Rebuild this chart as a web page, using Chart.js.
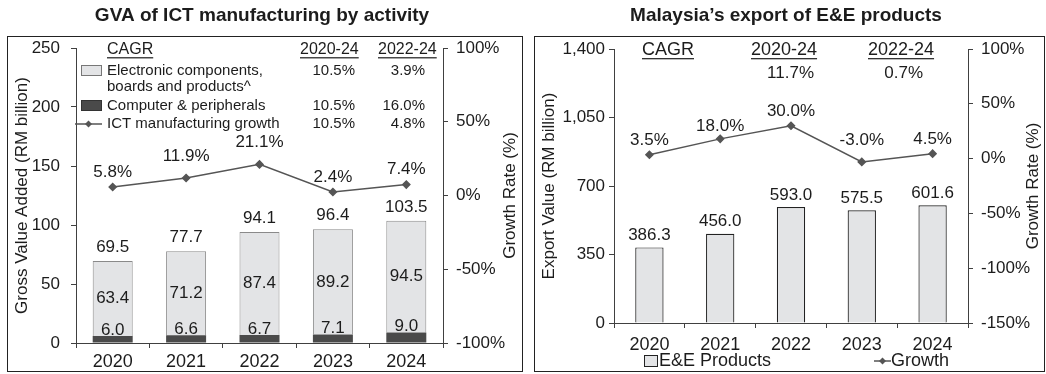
<!DOCTYPE html>
<html>
<head>
<meta charset="utf-8">
<script src="https://cdn.jsdelivr.net/npm/chart.js@4.4.1/dist/chart.umd.min.js"></script>
<style>
  html, body { margin: 0; padding: 0; background: #fff; overflow: hidden; }
  #wrap { position: relative; width: 1046px; height: 374px; }
  #gva { position: absolute; left: 0; top: 0; }
  #ee { position: absolute; left: 528px; top: 0; }
</style>
</head>
<body>
<div id="wrap">
  <canvas id="gva" width="528" height="374"></canvas>
  <canvas id="ee" width="518" height="374"></canvas>
</div>
<script>
// ---- data ----
const years = ['2020', '2021', '2022', '2023', '2024'];

// GVA of ICT manufacturing, RM billion
const computerPeripherals = [6.0, 6.6, 6.7, 7.1, 9.0];
const electronicComponents = [63.4, 71.2, 87.4, 89.2, 94.5];
const gvaTotal = [69.5, 77.7, 94.1, 96.4, 103.5];
const ictGrowth = [5.8, 11.9, 21.1, 2.4, 7.4];
const gvaTicks = [0, 50, 100, 150, 200, 250];
const gvaGrowthTicks = [-100, -50, 0, 50, 100];

// CAGR table (rows: electronic, computer, ICT growth)
const gvaCagrRows = ['Electronic components,', 'Computer & peripherals', 'ICT manufacturing growth'];
const gvaCagr2020_24 = [10.5, 10.5, 10.5];
const gvaCagr2022_24 = [3.9, 16.0, 4.8];

// Malaysia E&E exports, RM billion
const eeExports = [386.3, 456.0, 593.0, 575.5, 601.6];
const eeGrowth = [3.5, 18.0, 30.0, -3.0, 4.5];
const eeTicks = [0, 350, 700, 1050, 1400];
const eeGrowthTicks = [-150, -100, -50, 0, 50, 100];
const eeCagr = [11.7, 0.7]; // 2020-24, 2022-24

// ---- style ----
const FONT = "'Liberation Sans', Arial, sans-serif";
const INK = '#1c1c1c';
const AXIS = '#404040';
const LIGHT = '#e3e4e6';
const DARK = '#4a4a4a';
const LINE = '#555555';

Chart.defaults.font.family = FONT;
Chart.defaults.color = INK;
Chart.defaults.animation = false;

function txt(ctx, s, x, y, o = {}) {
  const size = o.size || 15;
  ctx.save();
  ctx.font = (o.bold ? 'bold ' : '') + size + 'px ' + FONT;
  ctx.fillStyle = o.color || INK;
  ctx.textAlign = o.align || 'left';
  ctx.textBaseline = o.base || 'middle';
  ctx.fillText(s, x, y);
  if (o.underline) {
    const w = ctx.measureText(s).width;
    let x0 = x;
    if (ctx.textAlign === 'right') x0 = x - w;
    if (ctx.textAlign === 'center') x0 = x - w / 2;
    ctx.fillRect(x0, y + size * 0.45, w, 1.2);
  }
  ctx.restore();
}

// rotated axis title reading bottom-to-top, like the reference
function vTitle(ctx, s, x, y) {
  ctx.save();
  ctx.translate(x, y);
  ctx.rotate(-Math.PI / 2);
  txt(ctx, s, 0, 0, { size: 17, align: 'center' });
  ctx.restore();
}

function diamond(ctx, x, y, r) {
  ctx.beginPath();
  ctx.moveTo(x, y - r);
  ctx.lineTo(x + r, y);
  ctx.lineTo(x, y + r);
  ctx.lineTo(x - r, y);
  ctx.closePath();
  ctx.fill();
}

function lineKey(ctx, x0, x1, y) {
  ctx.save();
  ctx.strokeStyle = LINE;
  ctx.fillStyle = LINE;
  ctx.lineWidth = 1.5;
  ctx.beginPath();
  ctx.moveTo(x0, y);
  ctx.lineTo(x1, y);
  ctx.stroke();
  diamond(ctx, (x0 + x1) / 2, y, 3.5);
  ctx.restore();
}

function pct(v) { return v.toFixed(1) + '%'; }

function axisCommon(extra) {
  return Object.assign({
    grid: { drawOnChartArea: false, drawTicks: true, tickLength: 5, color: AXIS },
    border: { color: AXIS, width: 1 }
  }, extra);
}

// ---- left chart: GVA ----
const gvaDecor = {
  id: 'gvaDecor',
  beforeDraw(chart) {
    const ctx = chart.ctx;
    ctx.save();
    ctx.strokeStyle = '#222';
    ctx.lineWidth = 1;
    ctx.strokeRect(7.5, 36.5, 515, 335);
    ctx.restore();
    txt(ctx, 'GVA of ICT manufacturing by activity', 262, 16, { size: 19, bold: true, align: 'center' });
    const a = chart.chartArea;
    vTitle(ctx, 'Growth Rate (%)', 510, (a.top + a.bottom) / 2);
  },
  afterDatasetsDraw(chart) {
    const ctx = chart.ctx;
    const dark = chart.getDatasetMeta(0).data;
    const light = chart.getDatasetMeta(1).data;
    const line = chart.getDatasetMeta(2).data;
    const lift = [15, 22, 22, 15, 15];
    years.forEach((_, i) => {
      txt(ctx, computerPeripherals[i].toFixed(1), dark[i].x, dark[i].y - 6, { size: 17, align: 'center' });
      txt(ctx, electronicComponents[i].toFixed(1), light[i].x, (light[i].y + light[i].base) / 2, { size: 17, align: 'center' });
      txt(ctx, gvaTotal[i].toFixed(1), light[i].x, light[i].y - 14, { size: 17, align: 'center' });
      txt(ctx, pct(ictGrowth[i]), line[i].x, line[i].y - lift[i], { size: 17, align: 'center' });
    });

    // legend / CAGR table
    txt(ctx, 'CAGR', 107, 50, { size: 16, underline: true });
    txt(ctx, '2020-24', 300, 50, { size: 16, underline: true });
    txt(ctx, '2022-24', 378, 50, { size: 16, underline: true });

    ctx.save();
    ctx.fillStyle = LIGHT; ctx.strokeStyle = '#777'; ctx.lineWidth = 1;
    ctx.fillRect(81.5, 65.5, 20, 10); ctx.strokeRect(81.5, 65.5, 20, 10);
    ctx.fillStyle = DARK; ctx.strokeStyle = '#333';
    ctx.fillRect(81.5, 100.5, 20, 10); ctx.strokeRect(81.5, 100.5, 20, 10);
    ctx.restore();
    lineKey(ctx, 75, 102, 124);

    const rowY = [71, 106, 124];
    gvaCagrRows.forEach((name, r) => {
      txt(ctx, name, 107, rowY[r], { size: 15 });
      txt(ctx, pct(gvaCagr2020_24[r]), 355, rowY[r], { size: 15, align: 'right' });
      txt(ctx, pct(gvaCagr2022_24[r]), 425, rowY[r], { size: 15, align: 'right' });
    });
    txt(ctx, 'boards and products^', 107, 87, { size: 15 });
  }
};

new Chart(document.getElementById('gva'), {
  type: 'bar',
  data: {
    labels: years,
    datasets: [{
      label: 'Computer & peripherals',
      data: computerPeripherals,
      backgroundColor: DARK,
      borderWidth: 0,
      barPercentage: 0.545,
      categoryPercentage: 1,
      order: 1
    }, {
      label: 'Electronic components, boards and products^',
      data: electronicComponents,
      backgroundColor: LIGHT,
      borderColor: '#8a8a8a',
      borderWidth: 1,
      barPercentage: 0.545,
      categoryPercentage: 1,
      order: 1
    }, {
      type: 'line',
      label: 'ICT manufacturing growth',
      data: ictGrowth,
      yAxisID: 'y1',
      borderColor: LINE,
      backgroundColor: LINE,
      borderWidth: 1.5,
      pointStyle: 'rectRot',
      pointRadius: 3.5,
      order: 0
    }]
  },
  options: {
    responsive: false,
    layout: { padding: { top: 48, left: 0, right: 0, bottom: 0 } },
    plugins: { legend: { display: false }, tooltip: { enabled: false } },
    scales: {
      x: axisCommon({
        stacked: true,
        ticks: { font: { size: 18 }, padding: 3, color: INK },
        afterFit(s) { s.height = 31; }
      }),
      y: axisCommon({
        stacked: true,
        min: gvaTicks[0], max: gvaTicks[gvaTicks.length - 1],
        ticks: { font: { size: 17 }, padding: 11, color: INK, stepSize: gvaTicks[1] - gvaTicks[0] },
        title: { display: true, text: 'Gross Value Added (RM billion)', font: { size: 17 }, padding: { top: 12, bottom: 0 }, color: INK },
        afterFit(s) { s.width = 76; }
      }),
      y1: axisCommon({
        position: 'right',
        min: gvaGrowthTicks[0], max: gvaGrowthTicks[gvaGrowthTicks.length - 1],
        ticks: { font: { size: 17 }, padding: 8, color: INK, stepSize: gvaGrowthTicks[1] - gvaGrowthTicks[0], callback: v => v + '%' },
        afterFit(s) { s.width = 85; }
      })
    }
  },
  plugins: [gvaDecor]
});

// ---- right chart: E&E exports ----
const eeDecor = {
  id: 'eeDecor',
  beforeDraw(chart) {
    const ctx = chart.ctx;
    ctx.save();
    ctx.strokeStyle = '#222';
    ctx.lineWidth = 1;
    ctx.strokeRect(6.5, 36.5, 510, 335);
    ctx.restore();
    txt(ctx, 'Malaysia\u2019s export of E&E products', 258, 16, { size: 19, bold: true, align: 'center' });
    const a = chart.chartArea;
    vTitle(ctx, 'Growth Rate (%)', 505, (a.top + a.bottom) / 2);
  },
  afterDatasetsDraw(chart) {
    const ctx = chart.ctx;
    const bars = chart.getDatasetMeta(0).data;
    const line = chart.getDatasetMeta(1).data;
    const lift = [14, 13, 14, 22, 14];
    years.forEach((_, i) => {
      txt(ctx, eeExports[i].toFixed(1), bars[i].x, bars[i].y - 12, { size: 17, align: 'center' });
      txt(ctx, pct(eeGrowth[i]), line[i].x, line[i].y - lift[i], { size: 17, align: 'center' });
    });

    txt(ctx, 'CAGR', 114, 50, { size: 18, underline: true });
    txt(ctx, '2020-24', 223, 50, { size: 18, underline: true });
    txt(ctx, '2022-24', 340, 50, { size: 18, underline: true });
    txt(ctx, pct(eeCagr[0]), 286, 73, { size: 17, align: 'right' });
    txt(ctx, pct(eeCagr[1]), 395, 73, { size: 17, align: 'right' });

    // bottom legend
    ctx.save();
    ctx.fillStyle = LIGHT; ctx.strokeStyle = '#222'; ctx.lineWidth = 1;
    ctx.fillRect(116.5, 355.5, 13, 11); ctx.strokeRect(116.5, 355.5, 13, 11);
    ctx.restore();
    txt(ctx, 'E&E Products', 131, 361, { size: 18 });
    lineKey(ctx, 346, 363, 361);
    txt(ctx, 'Growth', 363, 361, { size: 18 });
  }
};

new Chart(document.getElementById('ee'), {
  type: 'bar',
  data: {
    labels: years,
    datasets: [{
      label: 'E&E Products',
      data: eeExports,
      backgroundColor: LIGHT,
      borderColor: '#222',
      borderWidth: 1.2,
      barPercentage: 0.4,
      categoryPercentage: 1,
      order: 1
    }, {
      type: 'line',
      label: 'Growth',
      data: eeGrowth,
      yAxisID: 'y1',
      borderColor: LINE,
      backgroundColor: LINE,
      borderWidth: 1.5,
      pointStyle: 'rectRot',
      pointRadius: 3.5,
      order: 0
    }]
  },
  options: {
    responsive: false,
    layout: { padding: { top: 49, left: 0, right: 0, bottom: 0 } },
    plugins: { legend: { display: false }, tooltip: { enabled: false } },
    scales: {
      x: axisCommon({
        ticks: { font: { size: 18 }, padding: 6, color: INK },
        afterFit(s) { s.height = 51; }
      }),
      y: axisCommon({
        min: eeTicks[0], max: eeTicks[eeTicks.length - 1],
        ticks: { font: { size: 17 }, padding: 4, color: INK, stepSize: eeTicks[1] - eeTicks[0], callback: v => v.toLocaleString('en-US') },
        title: { display: true, text: 'Export Value (RM billion)', font: { size: 17 }, padding: { top: 11, bottom: 0 }, color: INK },
        afterFit(s) { s.width = 86; }
      }),
      y1: axisCommon({
        position: 'right',
        min: eeGrowthTicks[0], max: eeGrowthTicks[eeGrowthTicks.length - 1],
        ticks: { font: { size: 17 }, padding: 8, color: INK, stepSize: eeGrowthTicks[1] - eeGrowthTicks[0], callback: v => v + '%' },
        afterFit(s) { s.width = 78; }
      })
    }
  },
  plugins: [eeDecor]
});
</script>
</body>
</html>
